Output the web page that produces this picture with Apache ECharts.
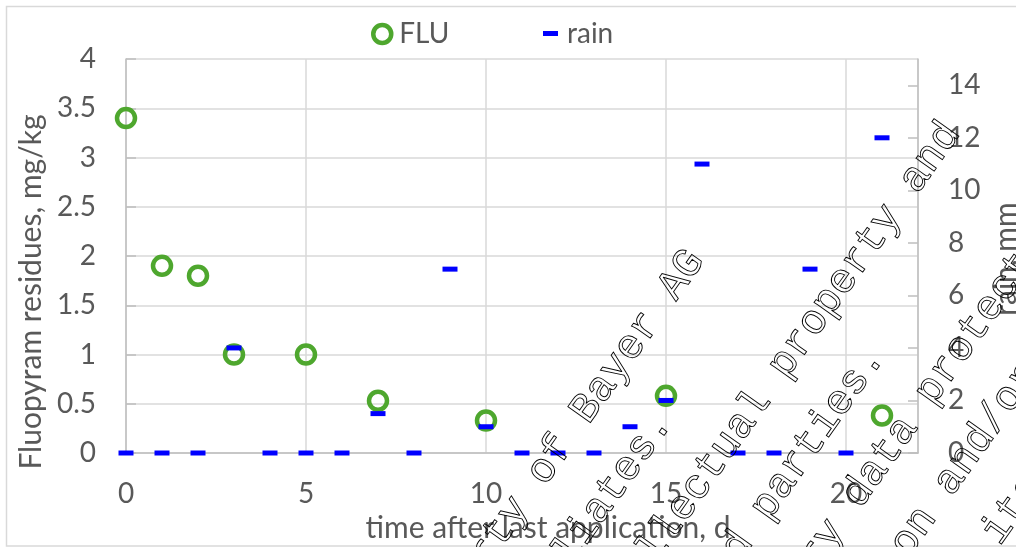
<!DOCTYPE html>
<html>
<head>
<meta charset="utf-8">
<script src="https://cdn.jsdelivr.net/npm/echarts@6/dist/echarts.min.js"></script>
<style>
  html, body { margin: 0; padding: 0; background: #fff; overflow: hidden; }
  #chart { width: 1016px; height: 547px; }
</style>
</head>
<body>
<div id="chart"></div>
<script>
// Fluopyram residues after the last application, with daily rainfall
const fluDays   = [0, 1, 2, 3, 5, 7, 10, 15, 21];
const fluValues = [3.4, 1.9, 1.8, 1.0, 1.0, 0.53, 0.33, 0.58, 0.38];

const rainDays   = [0, 1, 2, 3, 4, 5, 6, 7, 8, 9, 10, 11, 12, 13, 14, 15, 16, 17, 18, 19, 20, 21];
const rainValues = [0, 0, 0, 4, 0, 0, 0, 1.5, 0, 7, 1, 0, 0, 0, 1, 2, 11, 0, 0, 7, 0, 12];

const seriesNames = ['FLU', 'rain'];
const axisTitles = {
  x: 'time after last application, d',
  yLeft: 'Fluopyram residues, mg/kg',
  yRight: 'rain, mm'
};

// document notice printed diagonally across the page
const noticeLines = [
  'This document is the property of Bayer AG',
  'and/or any of its affiliates.',
  'It may be subject to rights such as intellectual property and',
  'copy rights of the owner and third parties.',
  'Furthermore, this document may fall under a regulatory data protection regime.',
  'Consequently, any publication, distribution, reproduction and/or publishing and',
  'any commercial exploitation and use of this document or its contents without'
];

const GREEN = '#4EA72E';
const BLUE = '#0000FF';
const TEXT = '#595959';
const GRID = '#D9D9D9';
const AXIS = '#BFBFBF';
const FONT = 'Lato';

const chart = echarts.init(document.getElementById('chart'), null, { renderer: 'canvas' });

// diagonal notice text layout
const ang = 54.7 * Math.PI / 180;
const ux = Math.cos(ang), uy = -Math.sin(ang);   // along the text
const nx = Math.sin(ang), ny = Math.cos(ang);    // across the lines
const noticeElements = noticeLines.map(function (line, k) {
  const perp = 715 + 67.6 * k;
  const s = -322;
  return {
    type: 'text',
    silent: true,
    z: 100,
    x: perp * nx + s * ux,
    y: perp * ny + s * uy,
    rotation: ang,
    style: {
      text: line,
      font: '42px "Liberation Mono", monospace',
      fill: 'none',
      stroke: '#000',
      lineWidth: 0.9,
      align: 'center',
      verticalAlign: 'middle',
      textAlign: 'center',
      textVerticalAlign: 'middle'
    }
  };
});

const labelStyle = { color: TEXT, fontFamily: FONT, fontSize: 28 };
const titleStyle = { color: TEXT, fontFamily: FONT, fontSize: 30 };

const option = {
  animation: false,
  backgroundColor: '#fff',
  grid: { left: 126, right: 98, top: 59, bottom: 94, containLabel: false, outerBoundsMode: 'none' },
  legend: [
    {
      data: [{ name: seriesNames[0], icon: 'circle',
               itemStyle: { color: 'rgba(0,0,0,0)', borderColor: GREEN, borderWidth: 4.5 } }],
      left: 371, top: 20, padding: 0,
      itemWidth: 18, itemHeight: 18,
      textStyle: { color: TEXT, fontFamily: FONT, fontSize: 28, padding: [0, 0, 0, 3] },
      selectedMode: false
    },
    {
      data: [{ name: seriesNames[1], icon: 'rect', itemStyle: { color: BLUE } }],
      left: 543, top: 19.5, padding: 0,
      itemWidth: 15, itemHeight: 5,
      textStyle: { color: TEXT, fontFamily: FONT, fontSize: 28, padding: [0, 0, 0, 4] },
      selectedMode: false
    }
  ],
  xAxis: {
    type: 'value',
    min: 0, max: 22, interval: 5,
    name: axisTitles.x,
    nameLocation: 'middle',
    nameGap: 46,
    nameTextStyle: Object.assign({ padding: [0, 0, 0, 52] }, titleStyle),
    axisLine: { show: true, onZero: false, lineStyle: { color: AXIS, width: 1.5 } },
    axisTick: { show: false },
    axisLabel: Object.assign({ margin: 27, showMaxLabel: false }, labelStyle),
    splitLine: { show: true, lineStyle: { color: GRID, width: 1.5 } }
  },
  yAxis: [
    {
      type: 'value',
      min: 0, max: 4, interval: 0.5,
      position: 'left',
      name: axisTitles.yLeft,
      nameLocation: 'middle',
      nameRotate: 90,
      nameGap: 80,
      nameTextStyle: Object.assign({ padding: [0, 72, 0, 0] }, titleStyle),
      axisLine: { show: true, lineStyle: { color: AXIS, width: 1.5 } },
      axisTick: { show: true, inside: true, length: 10, lineStyle: { color: AXIS, width: 1.5 } },
      axisLabel: Object.assign({ margin: 30 }, labelStyle),
      splitLine: { show: true, lineStyle: { color: GRID, width: 1.5 } }
    },
    {
      type: 'value',
      min: 0, max: 15, interval: 2,
      position: 'right',
      name: axisTitles.yRight,
      nameLocation: 'middle',
      nameRotate: 90,
      nameGap: 69,
      nameTextStyle: Object.assign({ padding: [0, 6, 0, 0] }, titleStyle),
      axisLine: { show: true, lineStyle: { color: AXIS, width: 1.5 } },
      axisTick: { show: true, inside: true, length: 10, lineStyle: { color: AXIS, width: 1.5 } },
      axisLabel: Object.assign({ margin: 30, showMaxLabel: false }, labelStyle),
      splitLine: { show: false }
    }
  ],
  series: [
    {
      name: seriesNames[0],
      type: 'scatter',
      xAxisIndex: 0, yAxisIndex: 0,
      data: fluDays.map(function (d, i) { return [d, fluValues[i]]; }),
      symbol: 'circle',
      symbolSize: 18,
      clip: false,
      itemStyle: { color: 'rgba(0,0,0,0)', borderColor: GREEN, borderWidth: 4.5, opacity: 1 },
      z: 2
    },
    {
      name: seriesNames[1],
      type: 'scatter',
      xAxisIndex: 0, yAxisIndex: 1,
      data: rainDays.map(function (d, i) { return [d, rainValues[i]]; }),
      symbol: 'rect',
      symbolSize: [15, 5],
      clip: false,
      itemStyle: { color: BLUE, opacity: 1 },
      z: 3
    }
  ],
  graphic: [
    {
      type: 'rect',
      silent: true,
      z: -1,
      shape: { x: 6.5, y: 6.5, width: 1030, height: 539.5 },
      style: { fill: 'none', stroke: GRID, lineWidth: 1.5 }
    }
  ].concat(noticeElements)
};

chart.setOption(option);
</script>
</body>
</html>
